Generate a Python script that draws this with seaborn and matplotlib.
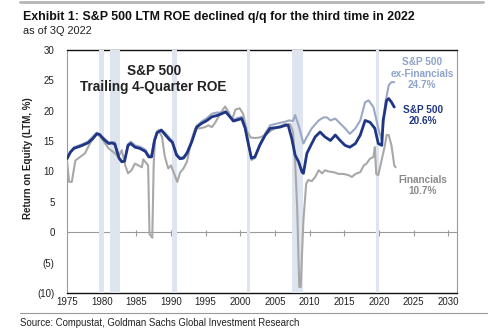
import numpy as np
import pandas as pd
import matplotlib
matplotlib.use("Agg")
import matplotlib.pyplot as plt
import seaborn as sns

# ---------------- data ----------------
spx_years = [1975.0, 1975.5, 1976.0, 1977.0, 1978.0, 1978.7, 1979.3, 1979.7, 1980.3, 1981.0,
             1981.5, 1981.9, 1982.5, 1982.9, 1983.3, 1983.8, 1984.2, 1984.8, 1985.5, 1986.3,
             1986.8, 1987.2, 1987.6, 1988.0, 1988.6, 1989.2, 1989.8, 1990.2, 1990.8, 1991.3,
             1991.8, 1992.3, 1993.0, 1993.7, 1994.4, 1995.2, 1995.9, 1996.6, 1997.3, 1997.9,
             1998.5, 1999.0, 1999.6, 2000.2, 2000.7, 2001.2, 2001.6, 2002.1, 2002.8, 2003.6,
             2004.3, 2005.0, 2005.7, 2006.5, 2006.9, 2007.4, 2007.9, 2008.4, 2008.9, 2009.1,
             2009.6, 2010.3, 2010.8, 2011.5, 2012.2, 2013.0, 2013.7, 2014.4, 2015.1, 2015.8,
             2016.6, 2017.3, 2018.0, 2018.7, 2019.4, 2019.9, 2020.4, 2020.6, 2021.1, 2021.4,
             2021.8, 2022.2]
spx_roe = [12.1, 13.2, 13.8, 14.2, 14.7, 15.4, 16.2, 16.1, 15.3, 14.6,
           14.7, 14.5, 12.2, 11.6, 11.7, 14.3, 14.6, 14.0, 13.8, 13.3,
           12.4, 12.4, 15.0, 16.4, 16.8, 16.0, 15.2, 14.8, 12.7, 12.1,
           12.2, 13.0, 14.9, 17.3, 17.9, 18.4, 19.0, 19.2, 19.5, 19.8,
           19.0, 18.3, 18.5, 18.7, 17.1, 14.3, 12.2, 12.4, 14.3, 16.0,
           17.1, 17.2, 17.3, 17.6, 17.6, 15.5, 12.7, 11.6, 9.9, 9.7,
           13.0, 14.6, 15.7, 16.5, 15.7, 15.1, 16.0, 15.1, 14.3, 14.0,
           14.6, 16.0, 18.4, 18.1, 17.1, 14.6, 14.3, 18.4, 21.7, 22.0,
           21.4, 20.6]

exfin_years = [1975.0, 1976.0, 1977.0, 1978.0, 1979.3, 1980.3, 1981.0, 1981.9, 1982.5, 1982.9,
               1983.3, 1983.8, 1984.2, 1984.8, 1985.5, 1986.3, 1986.8, 1987.2, 1987.6, 1988.0,
               1988.6, 1989.2, 1989.8, 1990.2, 1990.8, 1991.3, 1991.8, 1992.3, 1993.0, 1993.7,
               1994.4, 1995.2, 1995.9, 1996.6, 1997.3, 1997.9, 1998.5, 1999.0, 1999.6, 2000.2,
               2000.7, 2001.2, 2001.6, 2002.1, 2002.8, 2003.6, 2004.3, 2005.0, 2005.7, 2006.5,
               2007.0, 2007.6, 2007.9, 2008.4, 2009.1, 2009.6, 2010.3, 2011.3, 2012.0, 2012.5,
               2013.0, 2013.7, 2014.4, 2015.1, 2015.8, 2016.6, 2017.3, 2018.0, 2018.5, 2019.2,
               2019.9, 2020.4, 2020.9, 2021.4, 2021.8, 2022.2]
exfin_roe = [12.4, 14.0, 14.4, 14.9, 16.4, 15.5, 14.8, 14.8, 12.3, 11.7,
             11.8, 14.5, 14.9, 14.3, 14.1, 13.6, 12.6, 12.7, 15.3, 16.6,
             16.9, 16.3, 15.5, 15.0, 12.9, 12.3, 12.4, 13.2, 15.1, 17.5,
             18.2, 18.8, 19.5, 19.7, 19.7, 19.9, 19.1, 18.5, 18.8, 19.0,
             17.3, 14.5, 11.9, 12.2, 14.5, 16.3, 17.6, 17.8, 18.0, 18.2,
             18.4, 18.3, 19.3, 17.6, 14.6, 15.7, 17.1, 18.4, 18.9, 18.9,
             18.4, 18.7, 17.9, 17.1, 16.2, 17.1, 18.4, 21.4, 21.7, 20.6,
             17.1, 15.1, 21.2, 24.2, 24.7, 24.7]

fin_years = [1975.0, 1975.3, 1975.7, 1976.2, 1976.9, 1977.6, 1978.3, 1979.0, 1979.3, 1979.8,
             1980.5, 1981.0, 1981.9, 1982.4, 1982.9, 1983.4, 1983.8, 1984.3, 1984.8, 1985.3,
             1985.8, 1986.0, 1986.5, 1986.7, 1986.9, 1987.1, 1987.3, 1987.5, 1987.7, 1988.2,
             1988.7, 1989.1, 1989.6, 1990.0, 1990.5, 1990.9, 1991.3, 1991.8, 1992.3, 1993.0,
             1993.5, 1994.2, 1994.9, 1995.4, 1995.9, 1996.4, 1997.1, 1997.8, 1998.3, 1998.8,
             1999.3, 1999.9, 2000.4, 2001.0, 2001.5, 2002.1, 2002.8, 2003.6, 2004.5, 2005.4,
             2006.5, 2007.2, 2007.6, 2007.9, 2008.2, 2008.5, 2008.7, 2009.1, 2009.5, 2009.8,
             2010.3, 2010.8, 2011.3, 2011.8, 2012.2, 2012.7, 2013.4, 2014.2, 2014.9, 2015.6,
             2016.1, 2016.6, 2017.3, 2017.8, 2018.2, 2018.7, 2019.2, 2019.4, 2019.6, 2019.9,
             2020.4, 2020.8, 2021.1, 2021.4, 2021.8, 2022.2, 2022.4]
fin_roe = [11.8, 8.3, 8.3, 11.8, 12.4, 13.0, 14.6, 15.7, 16.2, 15.7,
           14.6, 13.8, 13.0, 12.4, 13.5, 11.0, 9.7, 10.2, 11.3, 11.0,
           10.7, 12.0, 11.3, 11.0, -0.3, -0.6, -0.9, 11.0, 15.5, 16.8,
           15.7, 12.5, 10.5, 11.0, 9.5, 8.3, 9.8, 10.5, 11.6, 15.4,
           17.1, 17.1, 17.3, 17.6, 17.3, 18.1, 19.5, 20.7, 19.8, 18.5,
           20.2, 20.4, 19.5, 16.5, 15.6, 15.5, 15.6, 16.0, 16.8, 17.3,
           17.8, 17.8, 16.5, 11.6, 4.0, -9.0, -9.0, 2.0, 8.0, 8.6,
           8.4, 9.1, 10.2, 9.7, 10.2, 10.0, 9.9, 9.6, 9.6, 9.4,
           9.1, 9.6, 9.9, 11.0, 11.3, 12.1, 12.4, 14.0, 9.6, 9.4,
           12.0, 14.0, 16.0, 16.0, 14.3, 11.0, 10.7]

recession_start = [1979.6, 1981.2, 1990.2, 2000.9, 2007.5, 2019.5]
recession_end = [1980.4, 1982.6, 1990.9, 2001.4, 2009.1, 2020.0]

y_ticks = [30, 25, 20, 15, 10, 5, 0, -5, -10]
y_tick_labels = ["30", "25", "20", "15", "10", "5", "0", "(5)", "(10)"]
x_ticks = [1975, 1980, 1985, 1990, 1995, 2000, 2005, 2010, 2015, 2020, 2025, 2030]

# ---------------- frame ----------------
df = pd.concat([
    pd.DataFrame({"year": fin_years, "roe": fin_roe, "series": "Financials"}),
    pd.DataFrame({"year": exfin_years, "roe": exfin_roe, "series": "S&P 500 ex-Financials"}),
    pd.DataFrame({"year": spx_years, "roe": spx_roe, "series": "S&P 500"}),
], ignore_index=True)

NAVY = "#1f3585"
EXFIN_LINE = "#9aa8c6"
EXFIN_TEXT = "#8da3cb"
FIN = "#a8a8a8"
FIN_TEXT = "#8a8a8a"
BAND = "#dfe5ef"

sns.set_theme(style="white")
plt.rcParams["font.family"] = ["Liberation Sans", "DejaVu Sans"]

fig = plt.figure(figsize=(5.0, 3.33), dpi=100)
ax = fig.add_axes([0.134, 0.120, 0.780, 0.730])

palette = {"Financials": FIN, "S&P 500 ex-Financials": EXFIN_LINE, "S&P 500": NAVY}
sns.lineplot(data=df, x="year", y="roe", hue="series", palette=palette,
             hue_order=["Financials", "S&P 500 ex-Financials", "S&P 500"],
             estimator=None, sort=False, legend=False, ax=ax, zorder=4)
for line, lw in zip(ax.get_lines(), [1.5, 1.5, 2.0]):
    line.set_linewidth(lw)

for s, e in zip(recession_start, recession_end):
    ax.axvspan(s, e, color=BAND, lw=0, zorder=3)

ax.set_xlim(1975, 2031.25)
ax.set_ylim(-10, 30)
ax.set_yticks(y_ticks)
ax.set_yticklabels(y_tick_labels)
ax.set_xticks(x_ticks)
ax.set_xticklabels([str(t) for t in x_ticks])
ax.tick_params(axis="both", labelsize=7, length=0, pad=3, colors="#222222")
ax.tick_params(axis="y", pad=9)

for side in ["left", "right"]:
    ax.spines[side].set_color("#9a9a9a")
    ax.spines[side].set_linewidth(0.8)
for side in ["top", "bottom"]:
    ax.spines[side].set_color("#111111")
    ax.spines[side].set_linewidth(1.0)
for sp in ax.spines.values():
    sp.set_zorder(2)

ax.axhline(0, color="#9a9a9a", lw=0.8, zorder=2)
ax.vlines(ax.get_xticks()[1:], -0.6, 0.3, color="#9a9a9a", lw=0.8, zorder=2)

ax.set_xlabel("")
ax.set_ylabel("Return on Equity (LTM, %)", fontsize=7, fontweight="bold", color="#222222")
ax.yaxis.set_label_coords(-0.087, 0.555)

ax.text(0.222, 0.88, "S&P 500\nTrailing 4-Quarter ROE", transform=ax.transAxes,
        ha="center", va="center", fontsize=9.8, fontweight="bold", color="#222222",
        linespacing=1.15)

ax.text(2026.2, 26.1, "S&P 500\nex-Financials\n24.7%", ha="center", va="center",
        fontsize=7.2, fontweight="bold", color=EXFIN_TEXT, linespacing=1.15, zorder=5)
ax.text(2026.4, 19.15, "S&P 500\n20.6%", ha="center", va="center",
        fontsize=7.2, fontweight="bold", color=NAVY, linespacing=1.15, zorder=5)
ax.text(2026.3, 7.7, "Financials\n10.7%", ha="center", va="center",
        fontsize=7.2, fontweight="bold", color=FIN_TEXT, linespacing=1.15, zorder=5)

fig.text(0.046, 0.948, "Exhibit 1: S&P 500 LTM ROE declined q/q for the third time in 2022",
         fontsize=8.9, fontweight="bold", color="#111111", va="center")
fig.text(0.046, 0.908, "as of 3Q 2022", fontsize=7.9, color="#222222", va="center")
fig.text(0.040, 0.030, "Source: Compustat, Goldman Sachs Global Investment Research",
         fontsize=6.9, color="#222222", va="center")

fig.add_artist(plt.Line2D([0.040, 0.966], [0.994, 0.994], color="#b5b5b5", lw=2,
                          transform=fig.transFigure))
fig.add_artist(plt.Line2D([0.040, 0.974], [0.061, 0.061], color="#9a9a9a", lw=0.8,
                          transform=fig.transFigure))

fig.savefig("out.png", dpi=100)
